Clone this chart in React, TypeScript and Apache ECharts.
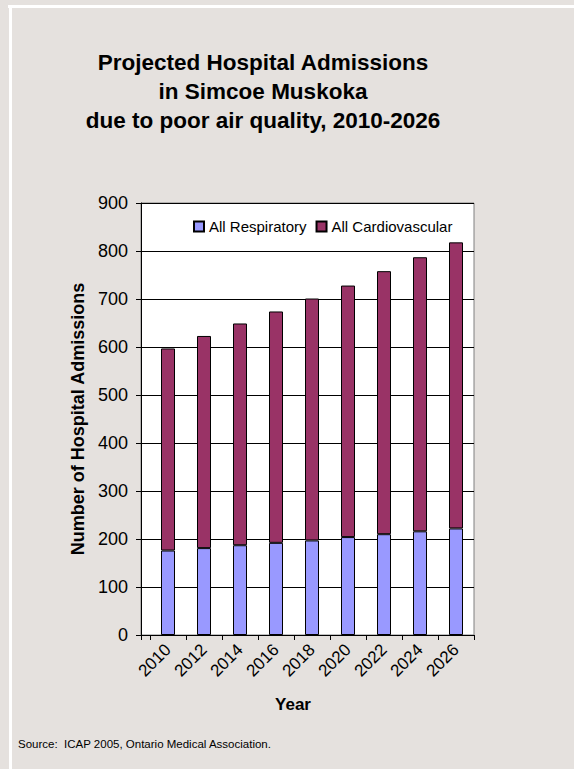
import React, { useEffect, useRef } from "react";
import * as echarts from "echarts";

const years = ["2010", "2012", "2014", "2016", "2018", "2020", "2022", "2024", "2026"];
const respiratory = [176, 181, 187, 192, 197, 204, 210, 216, 222];
const cardiovascular = [421, 442, 462, 482, 504, 524, 548, 571, 596];
const yTicks = { min: 0, max: 900, interval: 100 };

const FONT = "'Liberation Sans', Arial, sans-serif";
const PANEL = "#E5E1DE";

export default function App() {
  const ref = useRef<HTMLDivElement>(null);

  useEffect(() => {
    document.body.style.margin = "0";
    const chart = echarts.init(ref.current!, undefined, { renderer: "svg" });

    const plotTop = 203;
    const plotHeight = 432;

    chart.setOption({
      animation: false,
      backgroundColor: PANEL,
      textStyle: { fontFamily: FONT },
      title: {
        text: "Projected Hospital Admissions\nin Simcoe Muskoka\ndue to poor air quality, 2010-2026",
        left: 263,
        top: 48,
        padding: 0,
        textAlign: "center",
        textStyle: {
          fontFamily: FONT,
          fontSize: 22.5,
          fontWeight: "bold",
          lineHeight: 29,
          color: "#000",
        },
      },
      legend: {
        left: 193,
        top: 219,
        padding: 0,
        icon: "rect",
        itemWidth: 10,
        itemHeight: 10,
        itemGap: 9,
        textStyle: { fontFamily: FONT, fontSize: 15, color: "#000" },
        data: ["All Respiratory", "All Cardiovascular"],
      },
      grid: [
        {
          // framed plot area (white, with the y axis at its left edge)
          left: 141,
          top: plotTop,
          width: 333,
          height: plotHeight,
          show: true,
          backgroundColor: "#fff",
          borderColor: "#808080",
          borderWidth: 1,
        },
        {
          // category band for the bars, inset a little from the y axis
          left: 150,
          top: plotTop,
          width: 324,
          height: plotHeight,
        },
      ],
      xAxis: [
        {
          type: "value",
          gridIndex: 0,
          min: 0,
          max: 1,
          interval: 1,
          axisLine: { show: true, lineStyle: { color: "#000", width: 1 } },
          axisTick: { show: true, length: 5, lineStyle: { color: "#000" } },
          axisLabel: { show: false },
          splitLine: { show: false },
        },
        {
          type: "category",
          gridIndex: 1,
          data: years,
          boundaryGap: true,
          axisLine: { show: false },
          axisTick: { show: true, length: 5, lineStyle: { color: "#000" } },
          axisLabel: {
            rotate: 45,
            margin: 12,
            fontFamily: FONT,
            fontSize: 17,
            color: "#000",
          },
        },
      ],
      yAxis: [
        {
          type: "value",
          gridIndex: 0,
          min: yTicks.min,
          max: yTicks.max,
          interval: yTicks.interval,
          name: "Number of Hospital Admissions",
          nameLocation: "middle",
          nameRotate: 90,
          nameGap: 47,
          nameTextStyle: {
            fontFamily: FONT,
            fontSize: 18,
            fontWeight: "bold",
            color: "#000",
          },
          axisLine: { show: true, lineStyle: { color: "#000", width: 1 } },
          axisTick: { show: true, length: 5, lineStyle: { color: "#000" } },
          axisLabel: { margin: 13, fontFamily: FONT, fontSize: 18, color: "#000" },
          splitLine: { show: true, lineStyle: { color: "#000", width: 1 } },
        },
        {
          type: "value",
          gridIndex: 1,
          min: yTicks.min,
          max: yTicks.max,
          interval: yTicks.interval,
          show: false,
        },
      ],
      series: [
        {
          name: "All Respiratory",
          type: "bar",
          xAxisIndex: 1,
          yAxisIndex: 1,
          stack: "admissions",
          barWidth: 14,
          data: respiratory,
          itemStyle: { color: "#9999FF", borderColor: "#000", borderWidth: 1 },
        },
        {
          name: "All Cardiovascular",
          type: "bar",
          xAxisIndex: 1,
          yAxisIndex: 1,
          stack: "admissions",
          barWidth: 14,
          data: cardiovascular,
          itemStyle: { color: "#993366", borderColor: "#000", borderWidth: 1 },
        },
      ],
      graphic: [
        { type: "rect", shape: { x: 8, y: 5, width: 566, height: 3 }, style: { fill: "#fff" }, silent: true },
        { type: "rect", shape: { x: 9, y: 5, width: 3, height: 764 }, style: { fill: "#fff" }, silent: true },
        {
          type: "text",
          x: 293,
          y: 704,
          style: {
            text: "Year",
            font: `bold 17px ${FONT}`,
            fill: "#000",
            textAlign: "center",
            textVerticalAlign: "middle",
          },
        },
        {
          type: "text",
          x: 18,
          y: 744,
          style: {
            text: "Source:  ICAP 2005, Ontario Medical Association.",
            font: `11.5px ${FONT}`,
            fill: "#000",
            textAlign: "left",
            textVerticalAlign: "middle",
          },
        },
      ],
    });

    return () => chart.dispose();
  }, []);

  return <div ref={ref} style={{ width: 574, height: 769 }} />;
}
